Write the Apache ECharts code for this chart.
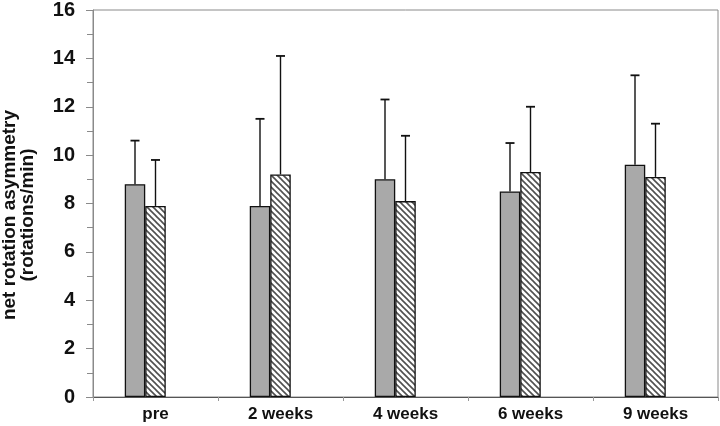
<!DOCTYPE html>
<html>
<head>
<meta charset="utf-8">
<script src="https://cdn.jsdelivr.net/npm/echarts@6/dist/echarts.min.js"></script>
<style>
html,body{margin:0;padding:0;background:#fff;}
#c{width:720px;height:426px;}
</style>
</head>
<body>
<div id="c"></div>
<script>
var categories = ['pre', '2 weeks', '4 weeks', '6 weeks', '9 weeks'];
var solidValues = [8.8, 7.9, 9.0, 8.5, 9.6];
var solidErrTop = [10.6, 11.5, 12.3, 10.5, 13.3];
var hatchValues = [7.9, 9.2, 8.1, 9.3, 9.1];
var hatchErrTop = [9.8, 14.1, 10.8, 12.0, 11.3];
var yMin = 0, yMax = 16, yInterval = 2;

var FONT = "'Liberation Sans', Arial, sans-serif";
var BAR_FRAC = 0.164;

function makeHatch() {
  var s = 6;
  var cv = document.createElement('canvas');
  cv.width = s; cv.height = s;
  var ctx = cv.getContext('2d');
  ctx.fillStyle = '#ffffff';
  ctx.fillRect(0, 0, s, s);
  ctx.strokeStyle = '#505050';
  ctx.lineWidth = 1.6;
  for (var k = -1; k <= 1; k++) {
    ctx.beginPath();
    ctx.moveTo(-1, -1 + k * s);
    ctx.lineTo(s + 1, s + 1 + k * s);
    ctx.stroke();
  }
  return cv;
}

function errData(tops, vals) {
  return tops.map(function (t, i) { return [i, vals[i], t]; });
}

function errRender(slot) {
  return function (params, api) {
    var i = api.value(0);
    var base = api.coord([i, api.value(1)]);
    var top = api.coord([i, api.value(2)]);
    var bw = api.size([1, 0])[0] * BAR_FRAC;
    var x = base[0] + (slot - 1) * bw;
    var cap = 4.5;
    return {
      type: 'group',
      children: [
        { type: 'line', shape: { x1: x, y1: base[1], x2: x, y2: top[1] }, style: { stroke: '#111', lineWidth: 1.4 } },
        { type: 'line', shape: { x1: x - cap, y1: top[1], x2: x + cap, y2: top[1] }, style: { stroke: '#111', lineWidth: 1.8 } }
      ]
    };
  };
}

var chart = echarts.init(document.getElementById('c'), null, { renderer: 'canvas' });
chart.setOption({
  animation: false,
  backgroundColor: '#ffffff',
  grid: { left: 93, right: 2, top: 7, bottom: 29, show: true, borderColor: '#8a8a8a', borderWidth: 1, backgroundColor: 'transparent' },
  xAxis: {
    type: 'category',
    data: categories,
    axisLine: { lineStyle: { color: '#555', width: 1 } },
    axisTick: { show: true, length: 4, lineStyle: { color: '#999' } },
    axisLabel: { fontFamily: FONT, fontWeight: 'bold', fontSize: 17, color: '#111', margin: 9 },
    splitLine: { show: false }
  },
  yAxis: {
    type: 'value',
    min: yMin, max: yMax, interval: yInterval,
    axisLine: { show: true, lineStyle: { color: '#8a8a8a', width: 1 } },
    axisTick: { show: true, inside: false, length: 7, lineStyle: { color: '#8a8a8a' } },
    minorTick: { show: true, splitNumber: 2, length: 6, lineStyle: { color: '#8a8a8a' } },
    axisLabel: { fontFamily: FONT, fontWeight: 'bold', fontSize: 20, color: '#111', margin: 18 },
    splitLine: { show: false }
  },
  graphic: [
    {
      type: 'text', x: 10, y: 215, rotation: Math.PI / 2,
      style: { text: 'net rotation asymmetry', font: 'bold 19px ' + FONT, fill: '#111', textAlign: 'center', textVerticalAlign: 'middle' }
    },
    {
      type: 'text', x: 28, y: 215, rotation: Math.PI / 2,
      style: { text: '(rotations/min)', font: 'bold 19px ' + FONT, fill: '#111', textAlign: 'center', textVerticalAlign: 'middle' }
    }
  ],
  series: [
    {
      type: 'bar', data: solidValues, barWidth: (BAR_FRAC * 100) + '%', barGap: '0%',
      itemStyle: { color: '#a9a9a9', borderColor: '#111', borderWidth: 1.3 }
    },
    {
      type: 'bar', data: hatchValues, barWidth: (BAR_FRAC * 100) + '%', barGap: '0%',
      itemStyle: { color: { image: makeHatch(), repeat: 'repeat' }, borderColor: '#111', borderWidth: 1.3 }
    },
    {
      type: 'bar', data: categories.map(function () { return null; }), barWidth: (BAR_FRAC * 100) + '%', barGap: '0%',
      itemStyle: { color: 'transparent' }
    },
    {
      type: 'custom', data: errData(solidErrTop, solidValues), renderItem: errRender(0), z: 1,
      encode: { x: 0, y: [1, 2] }
    },
    {
      type: 'custom', data: errData(hatchErrTop, hatchValues), renderItem: errRender(1), z: 1,
      encode: { x: 0, y: [1, 2] }
    }
  ]
});
</script>
</body>
</html>
